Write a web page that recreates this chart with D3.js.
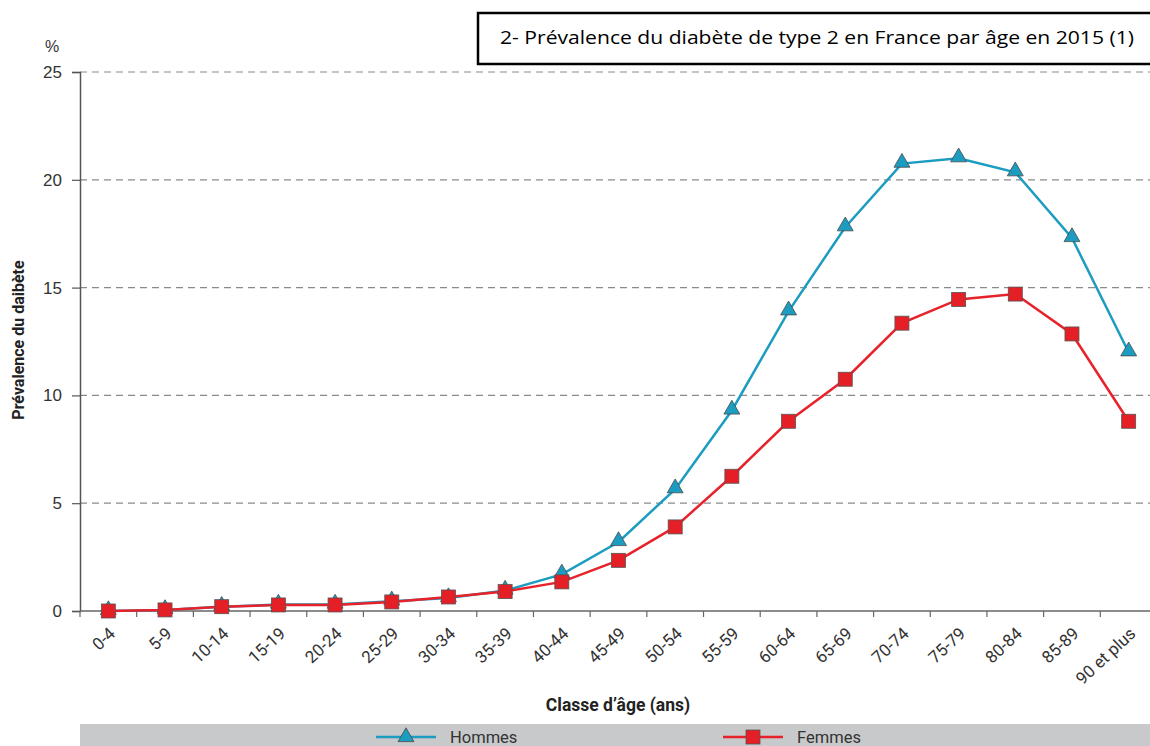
<!DOCTYPE html>
<html><head><meta charset="utf-8">
<script src="https://cdn.jsdelivr.net/npm/d3@7"></script>
<style>body{margin:0;background:#fff}svg{display:block}</style>
</head><body>
<svg id="c" width="1150" height="746"></svg>
<script>
const categories = ["0-4","5-9","10-14","15-19","20-24","25-29","30-34","35-39","40-44","45-49","50-54","55-59","60-64","65-69","70-74","75-79","80-84","85-89","90 et plus"];
const hommes = [0,0.05,0.2,0.3,0.3,0.45,0.6,0.95,1.7,3.2,5.65,9.3,13.9,17.8,20.75,21.0,20.35,17.3,12.0];
const femmes = [0,0.05,0.2,0.28,0.28,0.42,0.65,0.9,1.35,2.35,3.9,6.25,8.8,10.75,13.35,14.45,14.7,12.85,8.8];
const yTicks = [0,5,10,15,20,25];
const title = "2- Prévalence du diabète de type 2 en France par âge en 2015 (1)";

const svg = d3.select("#c");
const x = d3.scaleBand().domain(categories).range([80,1157]);
const y = d3.scaleLinear().domain([0,25]).range([611,72]);
const cx = d => x(d) + x.bandwidth()/2;
const cond = "'Liberation Sans Narrow','Roboto','Liberation Sans',sans-serif";

// gridlines
svg.append("g").selectAll("line").data(yTicks.filter(t=>t>0)).join("line")
  .attr("x1",80).attr("x2",1150).attr("y1",d=>y(d)).attr("y2",d=>y(d))
  .attr("stroke","#8a8a8a").attr("stroke-width",1.2).attr("stroke-dasharray","7,5");

// y axis
const ya = svg.append("g").attr("transform","translate(80,0)")
  .call(d3.axisLeft(y).tickValues(yTicks).tickSize(8).tickPadding(10));
ya.select(".domain").attr("stroke","#555").attr("stroke-width",1.5);
ya.selectAll(".tick line").attr("stroke","#555").attr("stroke-width",1.2);
ya.selectAll(".tick text").attr("font-family","'Liberation Sans',sans-serif").attr("font-size",17).attr("fill","#333");

// x axis
const xa = svg.append("g").attr("transform","translate(0,611)")
  .call(d3.axisBottom(x).tickSize(0).tickPadding(0));
xa.select(".domain").remove();
svg.append("line").attr("x1",80).attr("x2",1150).attr("y1",611).attr("y2",611).attr("stroke","#666").attr("stroke-width",1.5);
svg.append("g").selectAll("line").data(categories.slice(1)).join("line")
  .attr("x1",d=>x(d)).attr("x2",d=>x(d)).attr("y1",611).attr("y2",617)
  .attr("stroke","#666").attr("stroke-width",1.2);
svg.append("line").attr("x1",80).attr("x2",80).attr("y1",611).attr("y2",617).attr("stroke","#666").attr("stroke-width",1.2);
xa.selectAll(".tick text")
  .attr("font-family",cond).attr("font-size",17).attr("fill","#333")
  .attr("text-anchor","end").attr("dy",0)
  .attr("transform","translate(8,24) rotate(-43)");

// lines
const line = d3.line().x((d,i)=>cx(categories[i])).y(d=>y(d));
svg.append("path").datum(hommes).attr("d",line).attr("fill","none").attr("stroke","#1b9cc0").attr("stroke-width",2.5);
svg.append("path").datum(femmes).attr("d",line).attr("fill","none").attr("stroke","#e8222a").attr("stroke-width",2.5);

const tri = d3.symbol().type(d3.symbolTriangle).size(110);
svg.append("g").selectAll("path").data(hommes).join("path")
  .attr("d",tri).attr("transform",(d,i)=>`translate(${cx(categories[i])},${y(d)-1})`)
  .attr("fill","#1b9cc0").attr("stroke","#4a4a4a").attr("stroke-width",0.8);
svg.append("g").selectAll("rect").data(femmes).join("rect")
  .attr("x",(d,i)=>cx(categories[i])-7).attr("y",d=>y(d)-7).attr("width",14).attr("height",14)
  .attr("fill","#e51f26").attr("stroke","#555").attr("stroke-width",0.8);

// axis labels
svg.append("text").attr("x",52).attr("y",52).attr("text-anchor","middle")
  .attr("font-family","'Liberation Sans',sans-serif").attr("font-size",16).attr("fill","#333").text("%");
svg.append("text").attr("transform","translate(24,340) rotate(-90)").attr("text-anchor","middle")
  .attr("font-family",cond).attr("font-weight","bold").attr("font-size",16).attr("fill","#222").text("Prévalence du daibète");
svg.append("text").attr("x",618).attr("y",711).attr("text-anchor","middle")
  .attr("font-family",cond).attr("font-weight","bold").attr("font-size",17.5).attr("fill","#222").text("Classe d’âge (ans)");

// legend bar
svg.append("rect").attr("x",80).attr("y",724).attr("width",1070).attr("height",22).attr("fill","#c8c9ca");
const leg = [{name:"Hommes",col:"#1b9cc0",x0:376,type:"tri"},{name:"Femmes",col:"#e8222a",x0:723,type:"sq"}];
leg.forEach(l=>{
  svg.append("line").attr("x1",l.x0).attr("x2",l.x0+60).attr("y1",737).attr("y2",737).attr("stroke",l.col).attr("stroke-width",2.5);
  if(l.type==="tri"){
    svg.append("path").attr("d",d3.symbol().type(d3.symbolTriangle).size(110)).attr("transform",`translate(${l.x0+30},737)`)
      .attr("fill",l.col).attr("stroke","#4a4a4a").attr("stroke-width",0.8);
  } else {
    svg.append("rect").attr("x",l.x0+23).attr("y",730).attr("width",14).attr("height",14).attr("fill","#e51f26").attr("stroke","#555").attr("stroke-width",0.8);
  }
  svg.append("text").attr("x",l.x0+74).attr("y",743).attr("font-family",cond).attr("font-size",16.5).attr("fill","#333").text(l.name);
});

// title box
svg.append("rect").attr("x",478).attr("y",13).attr("width",680).attr("height",51).attr("fill","#fff").attr("stroke","#000").attr("stroke-width",2.5);
svg.append("text").attr("x",500).attr("y",44).attr("font-family","'Open Sans',sans-serif").attr("font-size",19).attr("fill","#000")
  .attr("textLength",634).attr("lengthAdjust","spacingAndGlyphs").text(title);
</script>
</body></html>
